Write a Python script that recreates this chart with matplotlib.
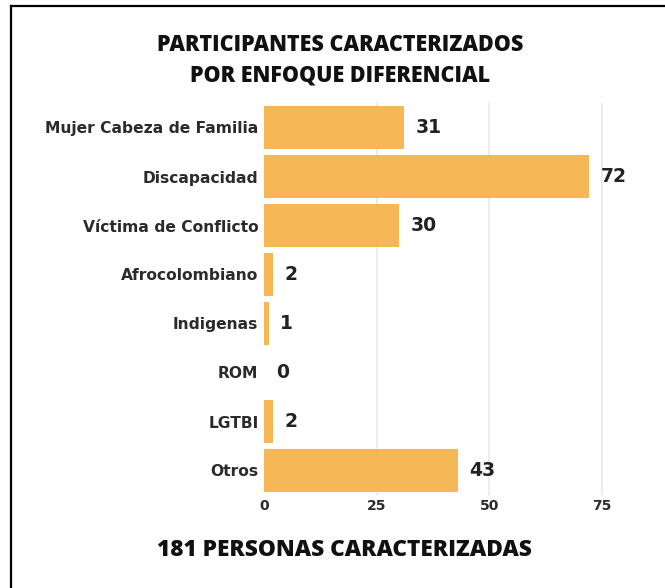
import matplotlib
matplotlib.use("Agg")
import matplotlib.pyplot as plt
from matplotlib.lines import Line2D

# datos del grafico
categorias = ["Mujer Cabeza de Familia", "Discapacidad", "Víctima de Conflicto",
              "Afrocolombiano", "Indigenas", "ROM", "LGTBI", "Otros"]
valores = [31, 72, 30, 2, 1, 0, 2, 43]
ticks_x = [0, 25, 50, 75]
titulo = "PARTICIPANTES CARACTERIZADOS\nPOR ENFOQUE DIFERENCIAL"
pie = "181 PERSONAS CARACTERIZADAS"

color_barra = "#F6B856"
color_texto = "#2b2b2b"

fig = plt.figure(figsize=(6.65, 5.88), dpi=100)
fig.patch.set_facecolor("white")

# marco: linea arriba y a la izquierda
fig.add_artist(Line2D([10.5/665, 1], [1-6/588, 1-6/588], color="black", lw=1.6, transform=fig.transFigure))
fig.add_artist(Line2D([10.5/665, 10.5/665], [0, 1-6/588], color="black", lw=1.6, transform=fig.transFigure))

ax = fig.add_axes([264/665, 1-495/588, 360.6/665, 392/588])
pos = list(range(len(categorias)))
ax.barh(pos, valores, height=0.88, color=color_barra, zorder=2)
ax.set_ylim(len(categorias)-0.5, -0.5)
ax.set_xlim(0, 80)

ax.set_yticks(pos)
ax.set_yticklabels(categorias, fontfamily="DejaVu Sans", fontweight="bold", fontsize=11.2, color=color_texto)
ax.set_xticks(ticks_x)
ax.set_xticklabels([str(t) for t in ticks_x], fontfamily="DejaVu Sans", fontweight="bold", fontsize=10, color=color_texto)
ax.tick_params(axis="both", length=0)
ax.tick_params(axis="y", pad=4)
ax.tick_params(axis="x", pad=3)

for t in ticks_x[1:]:
    ax.axvline(t, color="#e8e8e8", lw=1.2, zorder=1)

for s in ax.spines.values():
    s.set_visible(False)

for i, v in enumerate(valores):
    ax.annotate(str(v), (v, i), xytext=(8.5, 0), textcoords="offset points",
                ha="left", va="center", fontsize=13.5, fontweight="bold",
                fontfamily="DejaVu Sans", color="#222222", annotation_clip=False)

fig.text(340/665, 1-60/588, titulo, ha="center", va="center", fontsize=15.5,
         fontfamily="Open Sans", fontweight="heavy", color="#111111", linespacing=1.38)
fig.text(344/665, 1-550/588, pie, ha="center", va="center", fontsize=16.3,
         fontfamily="Open Sans", fontweight="heavy", color="#111111")

fig.savefig("out.png", dpi=100, facecolor="white")
